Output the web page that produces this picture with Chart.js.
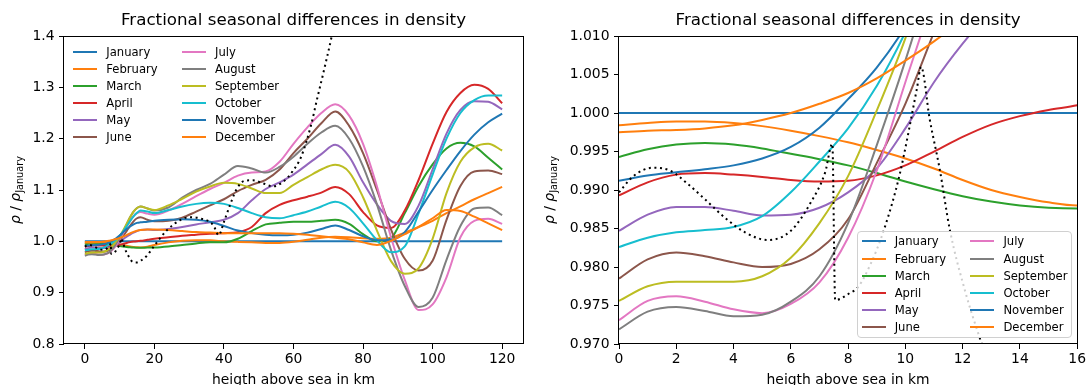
<!DOCTYPE html>
<html>
<head>
<meta charset="utf-8">
<title>Fractional seasonal differences in density</title>
<script src="https://cdn.jsdelivr.net/npm/chart.js@4/dist/chart.umd.min.js"></script>
<style>
  body { margin: 0; background: #fff; width: 1088px; height: 385px; overflow: hidden; position: relative; font-family: "DejaVu Sans", sans-serif; }
  canvas { position: absolute; top: 0; }
  #leftChart { left: 0; }
  #rightChart { left: 544px; }
  .legend { position: absolute; display: grid; grid-auto-flow: column; grid-template-rows: repeat(6, 17.15px);
            grid-template-columns: 108.7px auto; font-size: 11.6px; color: #000; box-sizing: border-box; }
  .legend .item { display: flex; align-items: center; white-space: nowrap; }
  .legend .swatch { display: inline-block; width: 24px; height: 2px; margin-right: 9px; }
  #leftLegend { left: 73.3px; top: 43.1px; }
  #rightLegend { left: 856.7px; top: 231px; width: 215px; height: 107px; padding: 0.9px 0 0 4px;
                 background: rgba(255,255,255,0.8); border: 1px solid #d0d0d0; border-radius: 4px; }
</style>
</head>
<body>
<canvas id="leftChart" width="544" height="385"></canvas>
<canvas id="rightChart" width="544" height="385"></canvas>
<div id="leftLegend" class="legend"></div>
<div id="rightLegend" class="legend"></div>

<script>
// ── Data ─────────────────────────────────────────────────────────────────────
// heights in km; ratios are rho(month) / rho(January)
const heights = [0, 1, 2, 3, 4, 5, 6, 7, 8, 9, 10, 11, 12, 13, 14, 15, 16,
  18, 20, 24, 28, 32, 36, 40, 44, 48, 52, 56, 60, 64, 68, 72, 76, 80, 84, 88, 92, 96, 100, 104, 108, 112, 116, 120];

const january = [1, 1, 1, 1, 1, 1, 1, 1, 1, 1, 1, 1, 1, 1, 1, 1, 1,
  1, 1, 1, 1, 1, 1, 1, 1, 1, 1, 1, 1, 1, 1, 1, 1, 1, 1, 1, 1, 1, 1, 1, 1, 1, 1, 1];
const february = [0.9984, 0.9987, 0.9989, 0.9989, 0.9987, 0.9983, 0.9977, 0.9970, 0.9962, 0.9952, 0.9941, 0.9928, 0.9913, 0.9900, 0.9891, 0.9884, 0.9880,
  0.9895, 0.993, 0.998, 1.001, 1.002, 1.002, 1.000, 0.999, 0.998, 0.997, 0.997, 0.999, 1.003, 1.007, 1.009, 1.008, 1.006, 1.005, 1.007, 1.017, 1.028, 1.040, 1.055, 1.068, 1.082, 1.094, 1.106];
const march = [0.9943, 0.9953, 0.9959, 0.9961, 0.9959, 0.9954, 0.9947, 0.9940, 0.9932, 0.9922, 0.9911, 0.9901, 0.9892, 0.9885, 0.9880, 0.9877, 0.9876,
  0.9878, 0.988, 0.990, 0.993, 0.996, 0.998, 0.998, 1.005, 1.020, 1.033, 1.036, 1.038, 1.038, 1.040, 1.042, 1.034, 1.014, 1.000, 1.006, 1.055, 1.108, 1.150, 1.181, 1.192, 1.185, 1.163, 1.140];
const april = [0.9893, 0.9910, 0.9920, 0.9922, 0.9920, 0.9917, 0.9913, 0.9911, 0.9912, 0.9919, 0.9932, 0.9950, 0.9969, 0.9985, 0.9996, 1.0004, 1.0010,
  1.003, 1.005, 1.008, 1.011, 1.013, 1.015, 1.016, 1.018, 1.028, 1.055, 1.071, 1.080, 1.087, 1.095, 1.106, 1.092, 1.057, 1.031, 1.026, 1.060, 1.120, 1.190, 1.252, 1.289, 1.305, 1.297, 1.269];
const may = [0.9847, 0.9868, 0.9878, 0.9878, 0.9873, 0.9867, 0.9868, 0.9877, 0.9897, 0.9928, 0.9980, 1.0040, 1.0090, 1.0133, 1.0170, 1.0200, 1.0220,
  1.023, 1.022, 1.024, 1.028, 1.033, 1.037, 1.042, 1.055, 1.080, 1.102, 1.115, 1.130, 1.150, 1.170, 1.188, 1.165, 1.115, 1.072, 1.040, 1.034, 1.070, 1.140, 1.210, 1.256, 1.273, 1.272, 1.257];
const june = [0.9785, 0.9810, 0.9819, 0.9814, 0.9806, 0.9800, 0.9804, 0.9823, 0.9862, 0.9935, 1.0012, 1.0105, 1.0200, 1.0300, 1.0390, 1.0450, 1.0470,
  1.042, 1.039, 1.040, 1.046, 1.058, 1.070, 1.082, 1.098, 1.110, 1.120, 1.140, 1.172, 1.200, 1.230, 1.253, 1.225, 1.172, 1.100, 1.024, 0.966, 0.943, 0.962, 1.042, 1.108, 1.136, 1.138, 1.131];
const july = [0.9731, 0.9756, 0.9762, 0.9755, 0.9745, 0.9740, 0.9752, 0.9780, 0.9838, 0.9925, 1.0040, 1.0155, 1.0290, 1.0400, 1.0490, 1.0550, 1.0570,
  1.054, 1.052, 1.060, 1.073, 1.088, 1.102, 1.114, 1.128, 1.134, 1.136, 1.155, 1.190, 1.222, 1.250, 1.267, 1.245, 1.190, 1.107, 1.009, 0.925, 0.866, 0.877, 0.930, 1.008, 1.040, 1.044, 1.034];
const august = [0.9719, 0.9742, 0.9748, 0.9743, 0.9736, 0.9738, 0.9755, 0.9788, 0.9857, 0.9958, 1.0068, 1.0190, 1.0330, 1.0470, 1.0580, 1.0650, 1.0680,
  1.064, 1.060, 1.066, 1.085, 1.100, 1.112, 1.130, 1.147, 1.142, 1.134, 1.145, 1.165, 1.190, 1.212, 1.225, 1.200, 1.146, 1.072, 0.984, 0.913, 0.872, 0.890, 0.964, 1.030, 1.064, 1.066, 1.051];
const september = [0.9756, 0.9775, 0.9781, 0.9781, 0.9781, 0.9788, 0.9812, 0.9857, 0.9918, 1.0003, 1.0097, 1.0210, 1.0340, 1.0470, 1.0580, 1.0650, 1.0680,
  1.064, 1.061, 1.070, 1.083, 1.097, 1.107, 1.114, 1.112, 1.103, 1.094, 1.094, 1.110, 1.125, 1.140, 1.149, 1.135, 1.086, 1.021, 0.962, 0.937, 0.948, 1.005, 1.094, 1.155, 1.183, 1.190, 1.177];
const october = [0.9826, 0.9838, 0.9845, 0.9848, 0.9852, 0.9866, 0.9897, 0.9937, 0.9980, 1.0035, 1.0105, 1.0190, 1.0290, 1.0395, 1.0485, 1.0555, 1.0600,
  1.058, 1.055, 1.061, 1.068, 1.073, 1.075, 1.073, 1.065, 1.055, 1.047, 1.045, 1.051, 1.058, 1.068, 1.077, 1.065, 1.035, 1.002, 0.979, 0.990, 1.055, 1.130, 1.200, 1.250, 1.275, 1.284, 1.284];
const november = [0.9912, 0.9919, 0.9923, 0.9927, 0.9932, 0.9941, 0.9956, 0.9981, 1.0018, 1.0059, 1.0112, 1.0180, 1.0240, 1.0290, 1.0330, 1.0360, 1.0370,
  1.038, 1.040, 1.042, 1.043, 1.042, 1.038, 1.030, 1.021, 1.016, 1.013, 1.012, 1.013, 1.017, 1.024, 1.031, 1.022, 1.010, 1.002, 1.003, 1.018, 1.058, 1.100, 1.139, 1.176, 1.208, 1.232, 1.249];
const december = [0.9975, 0.9977, 0.9978, 0.9980, 0.9984, 0.9991, 1.0000, 1.0012, 1.0026, 1.0045, 1.0068, 1.0093, 1.0122, 1.0155, 1.0185, 1.0208, 1.0222,
  1.0232, 1.023, 1.022, 1.020, 1.018, 1.017, 1.016, 1.016, 1.016, 1.016, 1.016, 1.015, 1.013, 1.010, 1.007, 1.004, 0.998, 0.993, 1.001, 1.014, 1.028, 1.045, 1.061, 1.059, 1.048, 1.035, 1.022];

// dotted reference profile (own height grid, sharp features near 7.5 and 10.5 km)
const dotHeights = [0, 0.5, 1.2, 1.8, 2.4, 3, 3.7, 4.4, 5.2, 6, 6.7, 7.2, 7.45, 7.55, 8.05, 8.35, 8.8, 9.25, 9.8, 10.4,
  10.55, 10.85, 11.2, 11.55, 12.1, 12.65, 13.4, 14.8, 16.2, 17.7, 19.6, 21.5, 23.5, 27.3, 30.2, 33, 36.9, 38.5, 40, 41.6,
  43.5, 45.9, 48.3, 51.2, 54.1, 57, 59.8, 62.2, 65, 66.7, 68.4, 71, 73];
const dotRatios = [0.9897, 0.9918, 0.9929, 0.9925, 0.9908, 0.9888, 0.9864, 0.9845, 0.9835, 0.9847, 0.9884, 0.9923, 0.9960, 0.9757, 0.9766, 0.9774, 0.9805, 0.9848, 0.9920, 1.0031,
  1.0060, 0.9992, 0.9927, 0.9849, 0.9767, 0.9702, 0.962, 0.959, 0.963, 0.971, 0.988, 1.005, 1.021, 1.041, 1.047, 1.045, 1.032, 1.012, 1.038, 1.068,
  1.100, 1.118, 1.119, 1.113, 1.107, 1.116, 1.137, 1.165, 1.225, 1.275, 1.323, 1.40, 1.47];

const months = ["January", "February", "March", "April", "May", "June",
  "July", "August", "September", "October", "November", "December"];
const monthColors = ["#1f77b4", "#ff7f0e", "#2ca02c", "#d62728", "#9467bd", "#8c564b",
  "#e377c2", "#7f7f7f", "#bcbd22", "#17becf", "#1f77b4", "#ff7f0e"];
const monthSeries = [january, february, march, april, may, june,
  july, august, september, october, november, december];

const leftXTicks = [0, 20, 40, 60, 80, 100, 120];
const leftYTicks = [0.8, 0.9, 1.0, 1.1, 1.2, 1.3, 1.4];
const rightXTicks = [0, 2, 4, 6, 8, 10, 12, 14, 16];
const rightYTicks = [0.970, 0.975, 0.980, 0.985, 0.990, 0.995, 1.000, 1.005, 1.010];

const chartTitle = "Fractional seasonal differences in density";
const xTitle = "heigth above sea in km";

Chart.defaults.font.family = "'DejaVu Sans', sans-serif";
Chart.defaults.color = "#000";

// ── Plugins ──────────────────────────────────────────────────────────────────
// box around the plot area (all four spines)
const frame = {
  id: "frame",
  afterDraw(chart) {
    const { ctx, chartArea: a } = chart;
    ctx.save();
    ctx.strokeStyle = "#000";
    ctx.lineWidth = 1;
    ctx.strokeRect(Math.round(a.left) - 0.5, Math.round(a.top) + 0.5,
      Math.round(a.right - a.left) + 1, Math.round(a.bottom - a.top) - 1);
    ctx.restore();
  }
};

// rotated y label  ρ / ρ_January  (subscript drawn smaller and shifted)
const rhoLabel = {
  id: "rhoLabel",
  afterDraw(chart, args, opts) {
    const { ctx, chartArea } = chart;
    const size = 13.9, sub = 9.7;
    const parts = [
      { t: "ρ", f: `italic ${size}px 'DejaVu Sans'`, dy: 0 },
      { t: " / ", f: `${size}px 'DejaVu Sans'`, dy: 0 },
      { t: "ρ", f: `italic ${size}px 'DejaVu Sans'`, dy: 0 },
      { t: "January", f: `${sub}px 'DejaVu Sans'`, dy: 2.6 },
    ];
    ctx.save();
    let total = 0;
    for (const p of parts) { ctx.font = p.f; p.w = ctx.measureText(p.t).width; total += p.w; }
    ctx.translate(opts.x, (chartArea.top + chartArea.bottom) / 2);
    ctx.rotate(-Math.PI / 2);
    ctx.fillStyle = "#000";
    ctx.textBaseline = "alphabetic";
    let x = -total / 2;
    for (const p of parts) { ctx.font = p.f; ctx.fillText(p.t, x, p.dy); x += p.w; }
    ctx.restore();
  }
};

// ── Chart builder ────────────────────────────────────────────────────────────
function buildDatasets() {
  const sets = monthSeries.map((series, i) => ({
    label: months[i],
    data: heights.map((h, k) => ({ x: h, y: series[k] })),
    borderColor: monthColors[i],
    backgroundColor: monthColors[i],
    order: monthSeries.length - i,
  }));
  sets.push({
    label: "profile",
    data: dotHeights.map((h, k) => ({ x: h, y: dotRatios[k] })),
    borderColor: "#000",
    borderDash: [2, 3.6],
    order: 0,
  });
  return sets;
}

function makeChart(id, cfg) {
  const tickFont = { size: 13.9 };
  const tickGrid = { display: true, drawOnChartArea: false, drawTicks: true, tickLength: 5, tickColor: "#000", tickWidth: 1 };
  return new Chart(document.getElementById(id), {
    type: "line",
    data: { datasets: buildDatasets() },
    plugins: [frame, rhoLabel],
    options: {
      responsive: false, animation: false, devicePixelRatio: 1, events: [],
      layout: { padding: { left: 0, right: cfg.padRight, top: 0, bottom: 0 } },
      elements: {
        point: { radius: 0 },
        line: { borderWidth: 2, cubicInterpolationMode: "monotone", fill: false },
      },
      plugins: {
        legend: { display: false },
        tooltip: { enabled: false },
        title: {
          display: true, fullSize: false, text: chartTitle, color: "#000",
          font: { size: 16.7, weight: "normal" }, padding: { top: 11, bottom: 5 },
        },
        rhoLabel: { x: cfg.labelX },
      },
      scales: {
        x: {
          type: "linear", min: cfg.xMin, max: cfg.xMax,
          afterBuildTicks: s => { s.ticks = cfg.xTicks.map(v => ({ value: v })); },
          afterFit: s => { s.height = 41; },
          grid: tickGrid, border: { display: false },
          ticks: { font: tickFont, color: "#000", padding: 2, autoSkip: false, maxRotation: 0 },
          title: { display: true, text: xTitle, color: "#000", font: { size: 13.9 }, padding: { top: 0, bottom: -4 } },
        },
        y: {
          type: "linear", min: cfg.yMin, max: cfg.yMax,
          afterBuildTicks: s => { s.ticks = cfg.yTicks.map(v => ({ value: v })); },
          afterFit: s => { s.width = cfg.yWidth; },
          grid: tickGrid, border: { display: false },
          ticks: { font: tickFont, color: "#000", padding: 4.5, autoSkip: false,
                   callback: v => v.toFixed(cfg.decimals) },
        },
      },
    },
  });
}

function buildLegend(el) {
  el.innerHTML = months.map((m, i) =>
    `<div class="item"><span class="swatch" style="background:${monthColors[i]}"></span>${m}</div>`).join("");
}

makeChart("leftChart", {
  xMin: -6, xMax: 126, yMin: 0.8, yMax: 1.4, xTicks: leftXTicks, yTicks: leftYTicks,
  decimals: 1, yWidth: 64, padRight: 21, labelX: 20,
});
makeChart("rightChart", {
  xMin: 0, xMax: 16, yMin: 0.97, yMax: 1.01, xTicks: rightXTicks, yTicks: rightYTicks,
  decimals: 3, yWidth: 75, padRight: 10, labelX: 10,
});
buildLegend(document.getElementById("leftLegend"));
buildLegend(document.getElementById("rightLegend"));
</script>
</body>
</html>
